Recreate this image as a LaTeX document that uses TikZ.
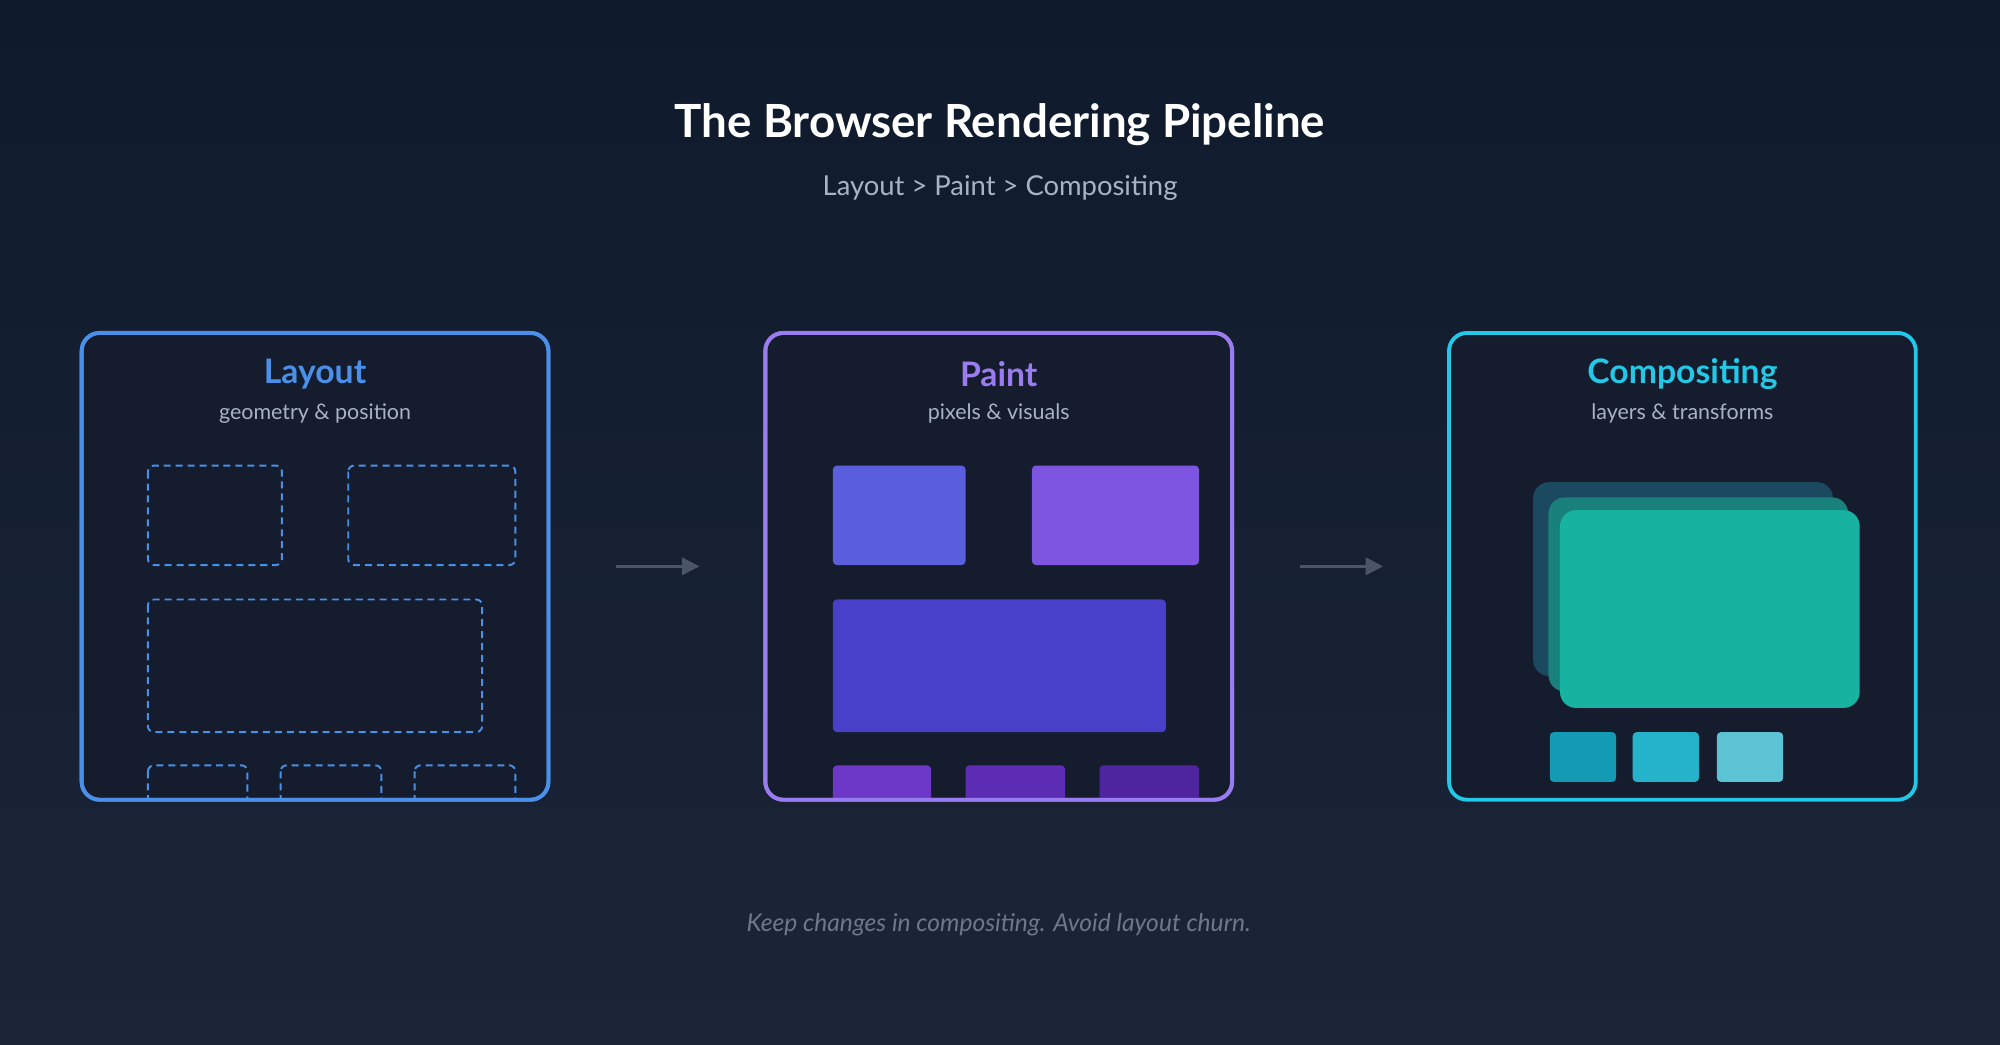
\documentclass[tikz,border=0pt]{standalone}
\usepackage{fontspec}
\setmainfont{Lato}
\usetikzlibrary{positioning, arrows.meta}
\definecolor{bgtop}{HTML}{0F1A2D}
\definecolor{bgbot}{HTML}{1C2537}
\definecolor{layoutblue}{HTML}{4A90E8}
\definecolor{paintviolet}{HTML}{9A7CF0}
\definecolor{compcyan}{HTML}{22C8E5}
\definecolor{subgray}{HTML}{A8B3C4}
\definecolor{arrowgray}{HTML}{4A5666}
\definecolor{panelfill}{HTML}{141C2E}

\begin{document}
\begin{tikzpicture}[x=0.012755cm, y=-0.012755cm]
		\tikzstyle{panel}=[draw, line width=1.1pt, rounded corners=0.18cm, minimum width=4.668cm, minimum height=4.668cm, fill=panelfill]
		\tikzstyle{head}=[font=\bfseries\fontsize{9.6}{10}\selectfont]
		\tikzstyle{sub}=[text=subgray, font=\fontsize{6.1}{7}\selectfont]
		\tikzstyle{slot}=[draw=layoutblue, dashed, line width=0.55pt, rounded corners=0.06cm, dash pattern=on 2pt off 1.4pt]
		\tikzstyle{block}=[rounded corners=0.04cm]
		\tikzstyle{arr}=[draw=arrowgray, line width=0.7pt, -{Triangle[length=5pt, width=5pt]}]
		
		% background
		\shade[top color=bgtop, bottom color=bgbot] (0,0) rectangle (1568,819);
		\useasboundingbox (0,0) rectangle (1568,819);
		
		\node[text=white, font=\bfseries\fontsize{13}{14}\selectfont] (title) at (784,98) {The Browser Rendering Pipeline};
		\node[text=subgray, font=\fontsize{7.8}{9}\selectfont] (subtitle) at (784,147) {Layout > Paint > Compositing};
		
		% panels
		\node[panel, draw=layoutblue] (layout) at (247,444) {};
		\node[panel, draw=paintviolet] (paint) at (783,444) {};
		\node[panel, draw=compcyan] (comp) at (1319,444) {};
		
		\node[head, text=layoutblue] (layouthead) at (247,293) {Layout};
		\node[sub] (layoutsub) at (247,324) {geometry \& position};
		\node[head, text=paintviolet] (painthead) at (783,293) {Paint};
		\node[sub] (paintsub) at (783,324) {pixels \& visuals};
		\node[head, text=compcyan] (comphead) at (1319,293) {Compositing};
		\node[sub] (compsub) at (1319,324) {layers \& transforms};
		
		% layout slots
		\draw[slot] (116,365) rectangle (221,443);
		\draw[slot] (273,365) rectangle (404,443);
		\draw[slot] (116,470) rectangle (378,574);
		\begin{scope}
		\clip (64,590) rectangle (430,626);
		\foreach \x/\w in {116/78, 220/79, 325/79}
		\draw[slot] (\x,600) rectangle (\x+\w,660);
		\end{scope}
		
		% paint blocks
		\fill[block, fill={rgb,255:red,91;green,95;blue,222}] (653,365) rectangle (757,443);
		\fill[block, fill={rgb,255:red,126;green,85;blue,224}] (809,365) rectangle (940,443);
		\fill[block, fill={rgb,255:red,72;green,64;blue,200}] (653,470) rectangle (914,574);
		\begin{scope}
		\clip (600,590) rectangle (966,626);
		\fill[block, fill={rgb,255:red,109;green,56;blue,200}] (653,600) rectangle (730,660);
		\fill[block, fill={rgb,255:red,94;green,45;blue,181}] (757,600) rectangle (835,660);
		\fill[block, fill={rgb,255:red,79;green,37;blue,159}] (862,600) rectangle (940,660);
		\end{scope}
		\draw[draw=paintviolet, line width=1.1pt, rounded corners=0.18cm] (600,261) rectangle (966,627);
		\draw[draw=layoutblue, line width=1.1pt, rounded corners=0.18cm] (64,261) rectangle (430,627);
		
		% compositing layers
		\fill[rounded corners=0.16cm, fill={rgb,255:red,27;green,74;blue,96}] (1202,378) rectangle (1437,530);
		\fill[rounded corners=0.16cm, fill={rgb,255:red,26;green,128;blue,124}] (1214,390) rectangle (1449,542);
		\fill[rounded corners=0.16cm, fill={rgb,255:red,23;green,179;blue,160}] (1223,400) rectangle (1458,555);
		\fill[block, fill={rgb,255:red,21;green,154;blue,181}] (1215,574) rectangle (1267,613);
		\fill[block, fill={rgb,255:red,37;green,179;blue,204}] (1280,574) rectangle (1332,613);
		\fill[block, fill={rgb,255:red,91;green,195;blue,212}] (1346,574) rectangle (1398,613);
		
		% arrows
		\draw[arr] ([xshift=0.66cm]layout.east) -- ([xshift=-0.64cm]paint.west);
		\draw[arr] ([xshift=0.66cm]paint.east) -- ([xshift=-0.64cm]comp.west);
		
		\node[text={rgb,255:red,110;green,120;blue,138}, font=\itshape\fontsize{7}{8}\selectfont] (note) at (783,725) {Keep changes in compositing. Avoid layout churn.};
\end{tikzpicture}
\end{document}
